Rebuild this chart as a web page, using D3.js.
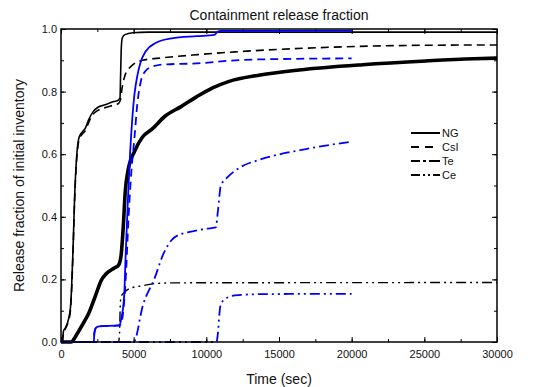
<!DOCTYPE html>
<html>
<head>
<meta charset="utf-8">
<script src="https://cdn.jsdelivr.net/npm/d3@7"></script>
<style>
  body { margin: 0; background: #fff; }
  text { font-family: "Liberation Sans", Arial, sans-serif; fill: #111; }
  .tick text { font-size: 11px; }
</style>
</head>
<body>
<svg id="chart"></svg>
<script>
// Case 1 (black) and case 2 (blue) release fractions, [time (s), fraction]
const ngBlack = [[0,0],[100,0.005],[170,0.035],[300,0.045],[500,0.07],[650,0.11],[720,0.165],[830,0.30],[935,0.46],[1045,0.57],[1150,0.63],[1250,0.655],[1480,0.672],[1674,0.683],[1891,0.709],[2217,0.736],[2543,0.75],[2978,0.757],[3630,0.768],[3960,0.773],[4060,0.78],[4100,0.85],[4150,0.94],[4220,0.972],[4400,0.982],[4935,0.988],[6000,0.99],[30000,0.99]]
const csiBlack = [[0,0],[100,0.004],[170,0.03],[300,0.042],[500,0.065],[650,0.10],[720,0.155],[830,0.29],[935,0.45],[1045,0.56],[1150,0.62],[1250,0.648],[1480,0.665],[1674,0.675],[1891,0.70],[2217,0.728],[2543,0.74],[2978,0.748],[3630,0.757],[3960,0.762],[4100,0.775],[4200,0.81],[4390,0.85],[4650,0.872],[4950,0.886],[5600,0.90],[7000,0.908],[9400,0.918],[12000,0.927],[14200,0.933],[19400,0.943],[25000,0.948],[30000,0.949]]
const teBlack = [[0,0],[720,0],[900,0.01],[1260,0.038],[1600,0.065],[1910,0.092],[2350,0.145],[2780,0.198],[3050,0.215],[3260,0.224],[3650,0.236],[3950,0.245],[4130,0.275],[4300,0.38],[4420,0.48],[4600,0.545],[5070,0.61],[5610,0.655],[6260,0.68],[7170,0.722],[8260,0.752],[9350,0.784],[10430,0.812],[11520,0.832],[13700,0.853],[16380,0.869],[20750,0.886],[25110,0.898],[28400,0.905],[30000,0.907]]
const ceBlack = [[0,0],[3950,0],[4020,0.02],[4080,0.12],[4130,0.145],[4400,0.16],[4780,0.172],[5650,0.18],[6520,0.187],[8000,0.189],[30000,0.19]]

const ngBlue = [[0,0],[2250,0],[2300,0.03],[2400,0.045],[2600,0.05],[4000,0.053],[4150,0.075],[4350,0.15],[4450,0.28],[4600,0.45],[4750,0.60],[4900,0.71],[5050,0.79],[5250,0.85],[5450,0.89],[5850,0.93],[6500,0.955],[7600,0.97],[9350,0.977],[10550,0.981],[10750,0.99],[11000,0.994],[20000,0.995]]
const csiBlue = [[0,0],[2250,0],[2300,0.03],[2400,0.045],[2600,0.05],[4050,0.053],[4200,0.07],[4450,0.2],[4650,0.40],[4850,0.55],[5050,0.65],[5250,0.76],[5480,0.83],[5800,0.865],[6300,0.88],[7200,0.887],[9350,0.89],[12000,0.90],[15000,0.904],[20000,0.906]]
const teBlue = [[0,0],[5000,0],[5650,0.12],[6410,0.2],[7070,0.284],[7600,0.325],[8260,0.345],[8700,0.35],[10000,0.362],[10650,0.366],[10800,0.42],[11000,0.5],[11500,0.528],[12400,0.56],[13500,0.58],[16450,0.613],[20000,0.64]]
const ceBlue = [[0,0],[10700,0],[10800,0.03],[10900,0.09],[11000,0.122],[11500,0.143],[12200,0.15],[14000,0.153],[20000,0.154]]

const legendNames = ["NG", "CsI", "Te", "Ce"]
const xMajor = [0, 5000, 10000, 15000, 20000, 25000, 30000]
const yMajor = [0, 0.2, 0.4, 0.6, 0.8, 1.0]

const W = 548, H = 387
const margin = {top: 29, right: 51, bottom: 45, left: 61}
const width = W - margin.left - margin.right
const height = H - margin.top - margin.bottom

const svg = d3.select("#chart").attr("width", W).attr("height", H)
const g = svg.append("g").attr("transform", `translate(${margin.left},${margin.top})`)

const x = d3.scaleLinear().domain([0, 30000]).range([0, width])
const y = d3.scaleLinear().domain([0, 1]).range([height, 0])

const xMinor = d3.range(0, 30001, 2500)
const yMinor = d3.range(0, 1.0001, 0.1)

// minor ticks (no labels)
function minor(axis, vals) {
    return axis.tickValues(vals).tickSize(-3).tickFormat("")
}
g.append("g").attr("transform", `translate(0,${height})`).call(minor(d3.axisBottom(x), xMinor))
g.append("g").call(minor(d3.axisTop(x), xMinor))
g.append("g").call(minor(d3.axisLeft(y), yMinor))
g.append("g").attr("transform", `translate(${width},0)`).call(minor(d3.axisRight(y), yMinor))

// major ticks
g.append("g").attr("class", "xaxis").attr("transform", `translate(0,${height})`)
    .call(d3.axisBottom(x).tickValues(xMajor).tickSize(-5).tickPadding(8).tickFormat(d3.format("d")))
g.append("g").call(d3.axisTop(x).tickValues(xMajor).tickSize(-5).tickFormat(""))
g.append("g").attr("class", "yaxis")
    .call(d3.axisLeft(y).tickValues(yMajor).tickSize(-5).tickPadding(4).tickFormat(d3.format(".1f")))
g.append("g").attr("transform", `translate(${width},0)`).call(d3.axisRight(y).tickValues(yMajor).tickSize(-5).tickFormat(""))

g.selectAll(".domain").remove()
g.selectAll(".tick line").attr("stroke", "#000").attr("stroke-width", 1)

const line = d3.line()
    .x(function(d) { return x(d[0]) })
    .y(function(d) { return y(d[1]) })
    .curve(d3.curveMonotoneX)

const dashes = {
    NG: null,
    CsI: "8,5",
    Te: "10,4,2,4",
    Ce: "10,4,2,4,2,4"
}

const series = [
    {data: ceBlack, color: "#000", dash: dashes.Ce, w: 1.4},
    {data: csiBlack, color: "#000", dash: dashes.CsI, w: 1.6},
    {data: teBlack, color: "#000", dash: null, w: 3.6},
    {data: ngBlack, color: "#000", dash: null, w: 1.6},
    {data: csiBlue, color: "#0000ff", dash: dashes.CsI, w: 1.8},
    {data: ngBlue, color: "#0000ff", dash: null, w: 1.8},
    {data: teBlue, color: "#0000ff", dash: dashes.Te, w: 1.8},
    {data: ceBlue, color: "#0000ff", dash: dashes.Ce, w: 1.8}
]

for (const s of series) {
    g.append("path")
        .datum(s.data)
        .attr("fill", "none")
        .attr("stroke", s.color)
        .attr("stroke-width", s.w)
        .attr("stroke-dasharray", s.dash)
        .attr("d", line)
}

// frame
g.append("rect")
    .attr("width", width).attr("height", height)
    .attr("fill", "none").attr("stroke", "#000").attr("stroke-width", 1.5)

// legend
const legendDash = {NG: null, CsI: "8,6,8", Te: "9,3,3,3,11", Ce: "9,3,2,3,2,3,8"}
const legend = svg.append("g").attr("transform", "translate(411,133)")
legendNames.forEach(function(name, i) {
    legend.append("line")
        .attr("x1", 0).attr("x2", 29)
        .attr("y1", i * 14).attr("y2", i * 14)
        .attr("stroke", "#000").attr("stroke-width", 2)
        .attr("stroke-dasharray", legendDash[name])
    legend.append("text")
        .attr("x", 31).attr("y", i * 14 + 4)
        .style("font-size", "11px")
        .text(name)
})

// titles
svg.append("text")
    .attr("x", margin.left + width / 2).attr("y", 20)
    .attr("text-anchor", "middle").style("font-size", "14px")
    .text("Containment release fraction")

svg.append("text")
    .attr("x", margin.left + width / 2).attr("y", 384)
    .attr("text-anchor", "middle").style("font-size", "14px")
    .text("Time (sec)")

svg.append("text")
    .attr("transform", `translate(24,${margin.top + height / 2}) rotate(-90)`)
    .attr("text-anchor", "middle").style("font-size", "14px")
    .text("Release fraction of initial inventory")
</script>
</body>
</html>
